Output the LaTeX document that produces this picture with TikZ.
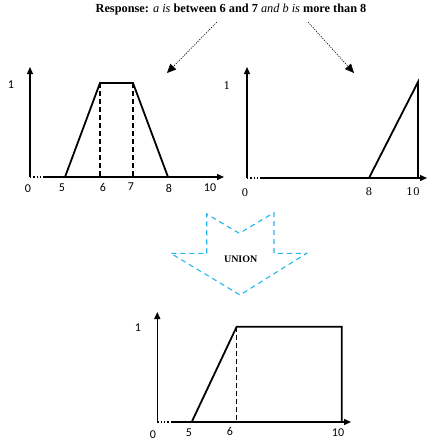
\documentclass[tikz,border=0pt]{standalone}
\usepackage{fontspec}
\setmainfont{Liberation Serif}
\newfontfamily\lab{Carlito}
\newfontfamily\labser{DejaVu Serif}
\usetikzlibrary{arrows.meta}
\definecolor{uniblue}{HTML}{22B5EE}
\tikzset{
  axis/.style={line width=1.3pt,-{Triangle[length=7pt,width=6pt]}},
  dotaxis/.style={line width=1.3pt,dotted},
  curve/.style={line width=1.8pt,line join=miter},
  guide/.style={line width=1.1pt,dash pattern=on 5pt off 3pt},
  ptr/.style={line width=0.6pt,dash pattern=on 1.2pt off 1.2pt,-{Triangle[length=9pt,width=8pt]}},
  lbl/.style={font=\lab\fontsize{12}{14}\selectfont,inner sep=0pt},
  lbls/.style={font=\labser\fontsize{10.5}{12}\selectfont,inner sep=0pt},
  uarrow/.style={draw=uniblue,line width=1.1pt,dash pattern=on 5pt off 4pt}
}
\begin{document}
\begin{tikzpicture}[x=1pt,y=-1pt]
\useasboundingbox (0,0) rectangle (427,445);
% title
\node[inner sep=0pt,font=\fontsize{12.3}{14}\selectfont] (title) at (231,10)
 {\textbf{Response:} \textit{a is} \textbf{between 6 and 7} \textit{and b is} \textbf{more than 8}};
\coordinate (p1s) at (217,22); \coordinate (p1e) at (167,73);
\coordinate (p2s) at (308,22); \coordinate (p2e) at (354,73);
\draw[ptr] (p1s) -- (p1e);
\draw[ptr] (p2s) -- (p2e);

% graph 1
\coordinate (o1) at (30,177);
\coordinate (y1) at (30,67);
\coordinate (d1) at (45,177);
\coordinate (x1) at (224,177);
\draw[axis] (o1) -- (y1);
\draw[dotaxis] (o1) -- (d1);
\draw[axis] (d1) -- (x1);
\coordinate (a5) at (65,177); \coordinate (a6) at (100,83);
\coordinate (a7) at (133,83); \coordinate (a8) at (168,177);
\coordinate (a6b) at (100,177); \coordinate (a7b) at (133,177);
\draw[curve] (a5) -- (a6) -- (a7) -- (a8);
\draw[curve] (a5) -- (a8);
\draw[guide] (a6) -- (a6b);
\draw[guide] (a7) -- (a7b);
\node[lbl] (l1a) at (11,85) {1};
\node[lbl] (l0a) at (28,189) {0};
\node[lbl] (l5a) at (62,188) {5};
\node[lbl] (l6a) at (103,187) {6};
\node[lbl] (l7a) at (131,187) {7};
\node[lbl] (l8a) at (169,188) {8};
\node[lbl] (l10a) at (210,188) {10};

% graph 2
\coordinate (o2) at (247,178);
\coordinate (y2) at (247,67);
\coordinate (d2) at (260,178);
\coordinate (x2) at (427,178);
\draw[axis] (o2) -- (y2);
\draw[dotaxis] (o2) -- (d2);
\draw[axis] (d2) -- (x2);
\coordinate (b8) at (369,178); \coordinate (b10t) at (418,82); \coordinate (b10) at (418,178);
\draw[curve] (b8) -- (b10t) -- (b10) -- cycle;
\node[lbls] (l1b) at (227,86) {1};
\node[lbls] (l0b) at (245,193) {0};
\node[lbls] (l8b) at (369,192) {8};
\node[lbls] (l10b) at (413,192) {10};

% union arrow
\draw[uarrow] (206.7,253.3) -- (206.7,214) -- (239.3,233.3) -- (274,212.7) -- (274,253.3)
  -- (306.7,253.3) -- (240,295) -- (170.7,253.3) -- cycle;
\node[inner sep=0pt,font=\bfseries\fontsize{10}{12}\selectfont] (union) at (240.7,259.3) {UNION};

% graph 3
\coordinate (o3) at (157.3,422);
\coordinate (y3) at (157.3,312);
\coordinate (d3) at (172,422);
\coordinate (x3) at (351,422);
\draw[axis] (o3) -- (y3);
\draw[dotaxis] (o3) -- (d3);
\draw[axis] (d3) -- (x3);
\coordinate (c5) at (191.7,422); \coordinate (c6) at (236.7,326.7);
\coordinate (c10t) at (341.7,326.7); \coordinate (c10) at (341.7,422);
\coordinate (c6b) at (236.7,422);
\draw[curve] (c5) -- (c6) -- (c10t) -- (c10) -- cycle;
\draw[guide] (c6) -- (c6b);
\node[lbl] (l1c) at (138,328) {1};
\node[lbl] (l0c) at (153,435) {0};
\node[lbl] (l5c) at (189,433) {5};
\node[lbl] (l6c) at (230,431) {6};
\node[lbl] (l10c) at (338,433) {10};
\end{tikzpicture}
\end{document}
